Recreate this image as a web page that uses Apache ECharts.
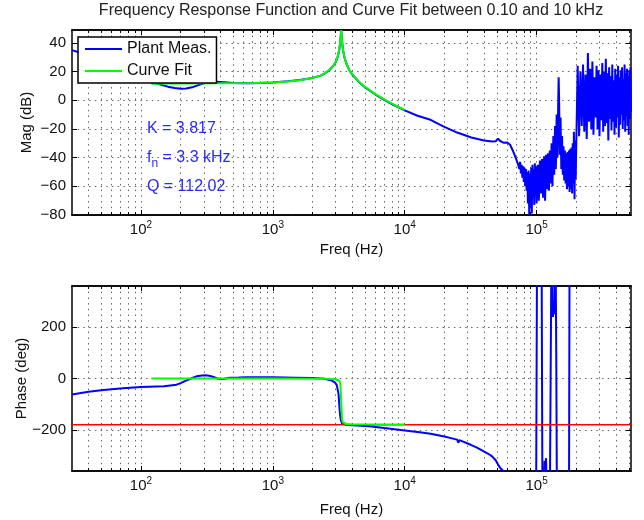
<!DOCTYPE html>
<html lang="en">
<head>
<meta charset="utf-8">
<title>Frequency Response Function</title>
<script src="https://cdn.jsdelivr.net/npm/echarts@6/dist/echarts.min.js"></script>
<style>
  html, body { margin: 0; padding: 0; background: #fff; }
  #chart { width: 644px; height: 520px; }
</style>
</head>
<body>
<div id="chart"></div>
<script type="text/javascript">
// frequency axis (Hz)
let freqRange = [30, 520000];
let majorFreqs = [100, 1000, 10000, 100000];
let minorFreqs = [40, 50, 60, 70, 80, 90,
                  200, 300, 400, 500, 600, 700, 800, 900,
                  2000, 3000, 4000, 5000, 6000, 7000, 8000, 9000,
                  20000, 30000, 40000, 50000, 60000, 70000, 80000, 90000,
                  200000, 300000, 400000, 500000];

let magRange = [-80, 49];
let magTicks = [-80, -60, -40, -20, 0, 20, 40];
let phaseRange = [-360, 360];
let phaseTicks = [-200, 0, 200];
let phaseLimit = -180;

// measured magnitude [Hz, dB]
let measMagPts = [[30,35],[35,33],[40,31],[50,27.5],[60,24.5],[70,22],[80,19.5],[90,17],[100,15],
  [112,13.3],[125,12.2],[140,11],[160,9.5],[180,8.5],[200,8],[220,8.2],[250,9.3],[280,11],[320,12.5],
  [370,13],[430,12.6],[500,12],[600,11.8],[700,11.8],[800,12],[1000,12.4],[1300,13.2],[1600,14.1],
  [2000,15.6],[2300,17.2],[2500,19],[2700,21.3],[2900,24.4],[3000,26.7],[3100,30],[3200,35.8],
  [3250,41.5],[3300,48.8],[3350,41],[3400,35.3],[3500,29.6],[3600,26],[3800,21],[4000,18],
  [4500,12.8],[5000,9],[6000,4],[7000,0.3],[8000,-2.6],[10000,-7],[12500,-10.8],[15700,-13.6],
  [18000,-16.5],[20000,-18.5],[25000,-22.5],[32000,-26],[40000,-28],[46000,-28.8],[49000,-28.6],
  [51000,-26.8],[53000,-28.4],[56000,-29.6],[60000,-29.5],[63000,-31],[66000,-35],[69000,-39.5],
  [72000,-44]];

// measured magnitude, noisy high-frequency part [Hz, dB]
let measMagNoise = [[73000,-44],[74000,-48],[75000,-43],[76000,-51],[77000,-45],[78000,-54],
  [79000,-46],[80000,-57],[81000,-47],[82000,-60],[83000,-48],[84000,-63],[85000,-50],[86000,-72],
  [87000,-49],[88000,-80],[89000,-51],[90000,-75],[91000,-47],[92000,-79],[93000,-45],[94000,-68],
  [95000,-48],[96000,-73],[97000,-44],[98000,-66],[99000,-46],
  [100000,-72],[102000,-45],[104000,-70],[106000,-42],[108000,-65],[110000,-41],[112000,-68],
  [114000,-39],[116000,-70],[118000,-38],[120000,-62],[122000,-37],[124000,-63],[126000,-35],
  [128000,-58],[130000,-30],[132000,-60],[134000,-25],[136000,-52],[138000,-18],[140000,-48],
  [142000,-10],[144000,-40],[146000,0],[147000,16],[148000,4],[150000,-38],[152000,-12],
  [154000,-48],[156000,-25],[158000,-52],[160000,-32],[162000,-56],[164000,-35],[166000,-58],
  [168000,-37],[170000,-62],[172000,-36],[174000,-60],[176000,-35],[178000,-64],[180000,-34],
  [182000,-62],[184000,-33],[186000,-65],[188000,-30],[190000,-58],[192000,-22],[194000,-69],
  [196000,-28],[198000,-55],
  [200000,-30],[205000,24],[210000,-25],[215000,20],[220000,-18],[225000,25],[230000,-22],
  [235000,18],[240000,-27],[245000,33],[250000,-15],[255000,22],[260000,-20],[265000,27],
  [270000,-24],[275000,16],[280000,-12],[285000,24],[290000,-20],[295000,21],[300000,-25],
  [305000,18],[310000,-14],[315000,26],[320000,-22],[325000,20],[330000,-18],[335000,29],
  [340000,-16],[345000,19],[350000,-28],[355000,23],[360000,-13],[365000,17],[370000,-21],
  [375000,25],[380000,-15],[385000,14],[390000,-24],[395000,22],[400000,-19],[405000,18],
  [410000,-12],[415000,24],[420000,-26],[425000,16],[430000,-17],[435000,21],[440000,-10],
  [445000,23],[450000,-20],[455000,15],[460000,-14],[465000,25],[470000,-22],[475000,19],
  [480000,-11],[485000,22],[490000,-18],[495000,17],[500000,-24],[505000,21],[510000,-13],
  [515000,23],[520000,-8]];

// curve fit magnitude [Hz, dB]
let fitMagPts = [[120,11.6],[200,11.7],[400,11.8],[700,12],[1000,12.4],[1300,13.1],[1600,14],
  [2000,15.6],[2300,17.2],[2500,19],[2700,21.5],[2900,24.5],[3000,26.8],[3100,30.2],[3200,36],
  [3250,41],[3300,49],[3350,41],[3400,35.5],[3500,29.5],[3600,26],[3800,21],[4000,18.2],
  [4500,13],[5000,9.3],[6000,4.3],[7000,0.6],[8000,-2.3],[9000,-4.7],[10000,-6.7]];

// measured phase [Hz, deg]
let measPhasePts = [[30,-62],[40,-52],[50,-46],[60,-42],[73,-38],[100,-33],[150,-30],[186,-24],
  [200,-18],[215,-10],[240,0],[266,9],[290,12],[307,13],[330,11],[355,6],[380,0],[409,-3],
  [440,0],[470,3],[550,4],[630,5],[800,5],[1000,4.5],[1490,3],[2000,1.5],[2450,-1],[2800,-8],
  [2950,-15],[3050,-25],[3150,-60],[3220,-130],[3270,-160],[3350,-175],[3600,-180],[4000,-182],
  [5400,-186],[7000,-193],[10000,-202],[13000,-209],[15700,-215],[20000,-226],[22400,-232],
  [25000,-238],[25500,-250],[26000,-240],[31700,-258],[35000,-268],[39800,-284],[43000,-293],
  [46000,-303],[49000,-318],[51000,-335],[53000,-348],[55000,-356],[57000,-365],[60000,-400],
  [80000,-500],[99000,-600],[101000,600],[109000,600],[111000,-600],[115000,-320],[117000,-360],
  [118000,-310],[120000,-500],[126000,-500],[130000,600],[133000,240],[135000,280],[137000,250],
  [139000,600],[141000,100],[143000,-600],[176000,-600],[178000,600],[520000,600]];

// curve fit phase [Hz, deg]
let fitPhasePts = [[120,0],[1000,-0.3],[2000,-0.8],[2500,-1.4],[3000,-3],[3100,-5],[3200,-9],
  [3250,-20],[3300,-90],[3350,-160],[3400,-171],[3500,-175],[3600,-177],[4000,-178.5],[10000,-179.5]];

let legendNames = ['Plant Meas.', 'Curve Fit'];
let fitNotes = [
  { f: 111, v: -20, text: '{t|K = 3.817}' },
  { f: 111, v: -40, text: '{t|f}{sub|n}{t| = 3.3 kHz}' },
  { f: 111, v: -60, text: '{t|Q = 112.02}' }
];
let chartTitle = 'Frequency Response Function and Curve Fit between 0.10 and 10 kHz';

const FONT = '"Liberation Sans", Arial, Helvetica, sans-serif';
const lg = (v) => Math.log10(v);
const toLog = (pts) => pts.map((p) => [Math.log10(p[0]), p[1]]);
const minus = (v) => String(v).replace('-', '\u2212');

let gridStyle = { color: '#666', width: 1, type: [1.5, 4.2] };
let frameStyle = { color: '#000', width: 1.5 };
let labelText = { fontFamily: FONT, fontSize: 15, color: '#111' };

function freqAxes(gi, nameGap){
    let base = {
        type: 'value', gridIndex: gi,
        min: lg(freqRange[0]), max: lg(freqRange[1]),
        axisLine: { show: true, onZero: false, lineStyle: frameStyle },
        axisLabel: { show: false },
        splitLine: { show: false }
    };
    let major = majorFreqs.map(lg);
    let minor = minorFreqs.map(lg);
    return [
        Object.assign({}, base, {
            position: 'bottom',
            name: 'Freq (Hz)', nameLocation: 'middle', nameGap: nameGap,
            nameMoveOverlap: false,
            nameTextStyle: labelText,
            axisTick: { show: true, inside: true, length: 5, customValues: major, lineStyle: { color: '#000' } },
            axisLabel: {
                show: true, customValues: major, margin: 5,
                formatter: (v) => '{b|10}{s|' + Math.round(v) + '}',
                rich: {
                    b: { fontFamily: FONT, fontSize: 15, color: '#111' },
                    s: { fontFamily: FONT, fontSize: 10, color: '#111', padding: [0, 0, 9, 0] }
                }
            },
            splitLine: { show: true, lineStyle: gridStyle }
        }),
        Object.assign({}, base, {
            position: 'bottom',
            axisTick: { show: true, inside: true, length: 3, customValues: minor, lineStyle: { color: '#000' } },
            splitLine: { show: true, lineStyle: gridStyle }
        }),
        Object.assign({}, base, {
            position: 'top',
            axisTick: { show: true, inside: true, length: 5, customValues: major, lineStyle: { color: '#000' } }
        }),
        Object.assign({}, base, {
            position: 'top',
            axisTick: { show: true, inside: true, length: 3, customValues: minor, lineStyle: { color: '#000' } }
        })
    ];
}

function levelAxes(gi, range, ticks, name, nameGap){
    return [
        {
            type: 'value', gridIndex: gi, position: 'left',
            min: range[0], max: range[1],
            name: name, nameLocation: 'middle', nameGap: nameGap,
            nameMoveOverlap: false,
            nameTextStyle: labelText,
            axisLine: { show: true, onZero: false, lineStyle: frameStyle },
            axisTick: { show: true, inside: true, length: 5, customValues: ticks, lineStyle: { color: '#000' } },
            axisLabel: Object.assign({ customValues: ticks, margin: 6, formatter: minus }, labelText),
            splitLine: { show: true, lineStyle: gridStyle }
        },
        {
            type: 'value', gridIndex: gi, position: 'right',
            min: range[0], max: range[1],
            axisLine: { show: true, onZero: false, lineStyle: frameStyle },
            axisTick: { show: true, inside: true, length: 5, customValues: ticks, lineStyle: { color: '#000' } },
            axisLabel: { show: false },
            splitLine: { show: false }
        }
    ];
}

function lineSeries(name, xi, yi, pts, color, width, z){
    return {
        name: name, type: 'line', xAxisIndex: xi, yAxisIndex: yi,
        data: toLog(pts), symbol: 'none', showSymbol: false,
        lineStyle: { color: color, width: width },
        itemStyle: { color: color },
        z: z
    };
}

let Chart = echarts.init(document.getElementById('chart'));

let option = {
    animation: false,
    backgroundColor: '#fff',
    grid: [
        { left: 72, top: 30, width: 559, height: 185, outerBoundsMode: 'none' },
        { left: 72, top: 286, width: 559, height: 185, outerBoundsMode: 'none' }
    ],
    xAxis: freqAxes(0, 27).concat(freqAxes(1, 31)),
    yAxis: levelAxes(0, magRange, magTicks, 'Mag (dB)', 38)
        .concat(levelAxes(1, phaseRange, phaseTicks, 'Phase (deg)', 43)),
    legend: {
        data: legendNames.map((n) => ({ name: n, icon: 'rect' })),
        left: 78, top: 37, orient: 'vertical',
        itemWidth: 37, itemHeight: 2, itemGap: 4,
        padding: [3, 5, 3, 7],
        borderColor: '#000', borderWidth: 1.5, borderRadius: 0,
        backgroundColor: '#fff',
        textStyle: { fontFamily: FONT, fontSize: 16, color: '#111', lineHeight: 18 },
        selectedMode: false, z: 10
    },
    series: [
        lineSeries('Plant Meas.', 0, 0, measMagPts.concat(measMagNoise), '#0000ff', 2, 2),
        lineSeries('Curve Fit', 0, 0, fitMagPts, '#00ff00', 2, 3),
        lineSeries('Plant Meas.', 4, 2, measPhasePts, '#0000ff', 2, 2),
        lineSeries('Phase limit', 4, 2, [[freqRange[0], phaseLimit], [freqRange[1], phaseLimit]], '#ff0000', 1.5, 3),
        lineSeries('Curve Fit', 4, 2, fitPhasePts, '#00ff00', 2, 4)
    ]
};

Chart.setOption(option);

// title and fit annotations
let graphics = [{
    type: 'text', x: 351, y: 11, z: 20,
    style: { text: chartTitle, font: '16px ' + FONT, fill: '#222', align: 'center', verticalAlign: 'middle' }
}];
fitNotes.forEach((n) => {
    let p = Chart.convertToPixel({ xAxisIndex: 0, yAxisIndex: 0 }, [lg(n.f), n.v]);
    graphics.push({
        type: 'text', x: p[0], y: p[1], z: 20,
        style: {
            text: n.text, align: 'left', verticalAlign: 'middle',
            rich: {
                t: { fontFamily: FONT, fontSize: 16, fill: '#2a2aff' },
                sub: { fontFamily: FONT, fontSize: 12, fill: '#2a2aff', padding: [12, 0, 0, 0] }
            }
        }
    });
});
Chart.setOption({ graphic: graphics });
</script>
</body>
</html>
